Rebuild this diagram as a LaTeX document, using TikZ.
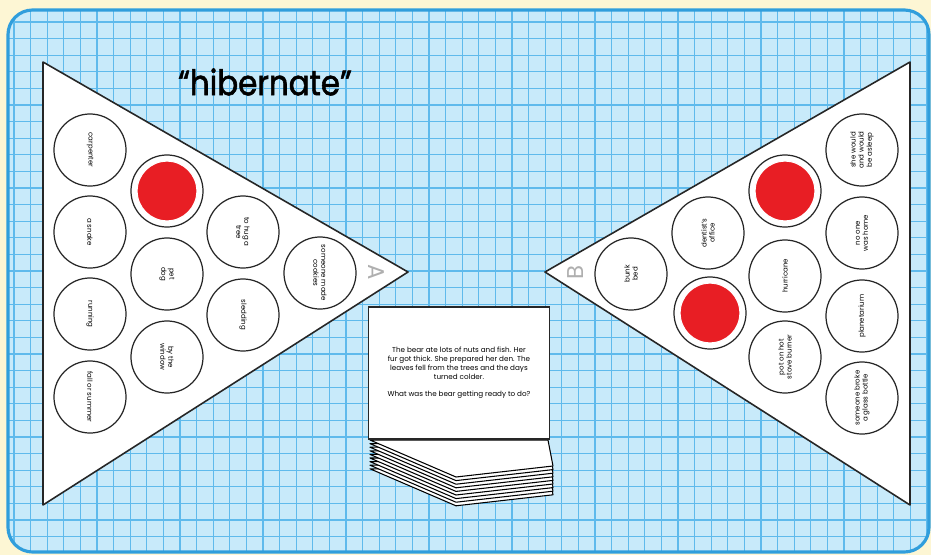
\documentclass[tikz,border=0pt]{standalone}
\usepackage{fontspec}
\setmainfont{Poppins}
\newfontfamily\titlefont[FakeStretch=0.88, FakeBold=1.6]{Poppins}
\usetikzlibrary{positioning}
\definecolor{paper}{RGB}{253,246,212}
\definecolor{gridfill}{RGB}{200,234,250}
\definecolor{gridline}{RGB}{95,186,236}
\definecolor{frameblue}{RGB}{48,158,220}
\definecolor{tokenred}{RGB}{232,30,36}
\definecolor{lettergrey}{RGB}{175,175,175}

\tikzset{
  slot/.style={circle, draw=black!85, line width=0.7pt, fill=white,
    minimum size=41pt, inner sep=0pt, align=center,
    font=\fontsize{4}{4.6}\selectfont},
  token/.style={circle, fill=tokenred, draw=white, line width=0.6pt,
    minimum size=34pt, inner sep=0pt},
  board/.style={fill=white, draw=black!85, line width=0.9pt, line join=round},
  card/.style={rectangle, draw=black!85, fill=white, line width=0.8pt,
    minimum width=103pt, minimum height=75pt, inner sep=1pt,
    align=center, font=\fontsize{4.1}{5}\selectfont},
}

\begin{document}
\begin{tikzpicture}[x=0.02cm, y=-0.02cm]
 \useasboundingbox (0,0) rectangle (931,555);
 \fill[paper] (0,0) rectangle (931,555);

 % graph paper
 \begin{scope}
  \clip[rounded corners=14pt] (8,10) rectangle (929,552);
  \fill[gridfill] (0,0) rectangle (931,560);
  \foreach \gx in {14,30.6,...,931}
   \draw[gridline, line width=0.7pt] (\gx,0) -- (\gx,560);
  \foreach \gy in {22,38.6,...,560}
   \draw[gridline, line width=0.7pt] (0,\gy) -- (931,\gy);
 \end{scope}
 \draw[frameblue, line width=1.8pt, rounded corners=14pt] (8,10) rectangle (929,552);

 % the two boards
 \draw[board] (43,62) -- (408,272) -- (43,505) -- cycle;
 \draw[board] (910,62) -- (545,272) -- (910,505) -- cycle;

 \node[font=\titlefont\fontsize{20}{24}\selectfont] (word) at (265,82) {“hibernate”};

 \node[text=lettergrey, rotate=-90, font=\fontsize{13}{13}\selectfont] (letterA) at (376,272) {A};
 \node[text=lettergrey, rotate=90, font=\fontsize{13}{13}\selectfont] (letterB) at (576,272) {B};

 % board A
 \foreach \nm/\px/\py/\txt in {
   a1/90/150/carpenter, a2/90/232/a snake, a3/90/314/running, a4/90/397/fall or summer,
   a5/167/191/{}, a6/167/274/{pet\\dog}, a7/167/357/{by the\\window},
   a8/243/232/{to hug a\\tree}, a9/243/315/sledding,
   a10/320/273/{someone made\\cookies}}
   \node[slot, rotate=-90] (\nm) at (\px,\py) {\txt};

 % board B
 \foreach \nm/\px/\py/\txt in {
   b1/862/150/{she would\\and would\\be asleep}, b2/862/233/{no one\\was home},
   b3/862/316/planetarium, b4/862/398/{someone broke\\a glass bottle},
   b5/785/191/{}, b6/785/276/hurricane, b7/785/357/{pot on hot\\stove burner},
   b8/708/233/{dentist's\\office}, b9/710/313/{},
   b10/631/274/{bunk\\bed}}
   \node[slot, rotate=90] (\nm) at (\px,\py) {\txt};

 % red counters
 \node[token] (redA) at (a5) {};
 \node[token] (redB1) at (b5) {};
 \node[token] (redB2) at (b9) {};

 % pile of cards
 \foreach \k in {8,7,...,0}
  \draw[fill=white, line width=0.6pt, line join=round]
   (370,{440+3.6*\k}) -- (548,{440+3.6*\k}) -- (553,{466+3.6*\k}) -- (456,{477+3.6*\k}) -- cycle;

 \node[card] (clue) at (459,373) {The bear ate lots of nuts and fish. Her\\
 fur got thick. She prepared her den. The\\
 leaves fell from the trees and the days\\
 turned colder.\\[5pt]
 What was the bear getting ready to do?};
\end{tikzpicture}
\end{document}
